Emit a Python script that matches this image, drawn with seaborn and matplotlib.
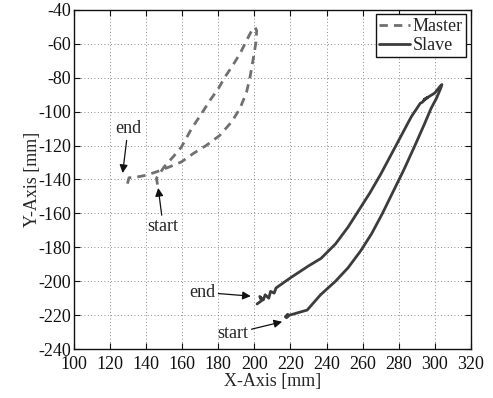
import numpy as np
import pandas as pd
import matplotlib
matplotlib.use("Agg")
import matplotlib.pyplot as plt
import seaborn as sns

# Master trajectory (dashed)
master_x = [146.3, 146.0, 145.7, 150.0, 155.0, 159.6, 165.2, 170.7, 175.4, 180.0, 183.7, 187.4,
            192.0, 195.7, 198.5, 200.4, 201.3, 200.9, 199.4, 197.6, 195.7, 192.0, 187.4,
            180.9, 173.5, 166.1, 159.6, 153.1, 145.7, 140.0, 135.0, 130.5, 129.8, 129.6]
master_y = [-143.0, -141.0, -139.4, -132.5, -126.6, -120.8, -110.0, -101.2, -93.3, -86.5, -79.6, -73.7,
            -65.9, -58.0, -52.2, -50.2, -52.2, -59.0, -68.8, -79.6, -88.4, -98.2, -106.0,
            -113.9, -119.8, -124.7, -129.6, -132.5, -135.5, -137.5, -138.5, -139.0, -142.0, -145.0]

# Slave trajectory (solid)
slave_x = [217.2, 218.5, 217.8, 219.5, 222.8, 229.3, 236.7, 245.0, 252.0, 259.0, 265.0, 271.0,
           277.0, 283.0, 289.0, 294.0, 298.0, 301.0, 303.0, 304.0, 303.0, 300.0, 297.0,
           294.0, 296.0, 293.0, 292.0, 287.0, 282.0, 276.0, 270.0, 264.0, 258.0, 252.0,
           245.0, 237.0, 230.0, 220.0, 212.0, 211.0, 209.0, 208.0, 206.0, 205.0, 203.0,
           204.0, 201.5]
slave_y = [-221.0, -219.5, -221.5, -220.0, -219.0, -217.0, -208.0, -200.0, -192.0, -182.0, -172.0, -160.0,
           -147.0, -134.0, -120.0, -108.0, -98.0, -92.0, -87.0, -84.0, -85.0, -89.0, -91.0,
           -93.0, -91.5, -94.5, -95.0, -103.0, -113.0, -125.0, -137.0, -148.0, -158.0, -168.0,
           -178.0, -186.5, -191.0, -198.0, -204.0, -207.0, -206.0, -210.0, -208.0, -211.0, -209.0,
           -211.5, -213.4]

x_ticks = list(range(100, 321, 20))
y_ticks = list(range(-240, -39, 20))

sns.set_style("ticks")
plt.rcParams["font.family"] = ["Liberation Serif", "DejaVu Serif"]

fig = plt.figure(figsize=(4.93, 3.98), dpi=100)
ax = fig.add_axes([0.150, 0.123, 0.805, 0.852])

df_m = pd.DataFrame({"x": master_x, "y": master_y})
df_s = pd.DataFrame({"x": slave_x, "y": slave_y})

sns.lineplot(data=df_m, x="x", y="y", sort=False, estimator=None, ax=ax,
             color="#707070", linewidth=2.0, linestyle=(0, (3.0, 2.2)), label="Master")
sns.lineplot(data=df_s, x="x", y="y", sort=False, estimator=None, ax=ax,
             color="#3c3c3c", linewidth=2.0, label="Slave")

ax.set_xlim(100, 320)
ax.set_ylim(-240, -40)
ax.set_xticks(x_ticks)
ax.set_yticks(y_ticks)
ax.set_xticklabels([str(v) for v in x_ticks])
ax.set_yticklabels([str(v) for v in y_ticks])

ax.grid(True, linestyle=(0, (1, 3)), color="#666666", linewidth=0.6)
ax.tick_params(direction="in", top=True, right=True, length=4, width=0.8,
               labelsize=13, colors="#111111")
ax.tick_params(axis="x", pad=5)
ax.tick_params(axis="y", pad=2)
for s in ax.spines.values():
    s.set_visible(True)
    s.set_linewidth(1.0)
    s.set_color("#111111")

ax.set_xlabel("X-Axis [mm]", fontsize=13, labelpad=0)
ax.set_ylabel("Y-Axis [mm]", fontsize=13, labelpad=-2)

arrowprops = dict(arrowstyle="-|>", color="#111111", lw=0.9, mutation_scale=12,
                  shrinkA=0, shrinkB=0)
ax.annotate("end", xy=(127.0, -136.2), xytext=(130.0, -110.0), fontsize=13,
            ha="center", va="center", arrowprops=arrowprops)
ax.annotate("start", xy=(146.7, -145.0), xytext=(149.5, -168.0), fontsize=13,
            ha="center", va="center", arrowprops=arrowprops)
ax.annotate("end", xy=(198.0, -208.8), xytext=(171.0, -206.5), fontsize=13,
            ha="center", va="center", arrowprops=arrowprops)
ax.annotate("start", xy=(215.4, -223.9), xytext=(188.0, -231.0), fontsize=13,
            ha="center", va="center", arrowprops=arrowprops)

leg = ax.legend(loc="upper right", fontsize=13, frameon=True, fancybox=False,
                edgecolor="#111111", framealpha=1, handlelength=1.7,
                handletextpad=0.15, borderpad=0.2, labelspacing=0.1,
                borderaxespad=0.25)
leg.get_frame().set_linewidth(1.0)

fig.savefig("out.png", dpi=100)
